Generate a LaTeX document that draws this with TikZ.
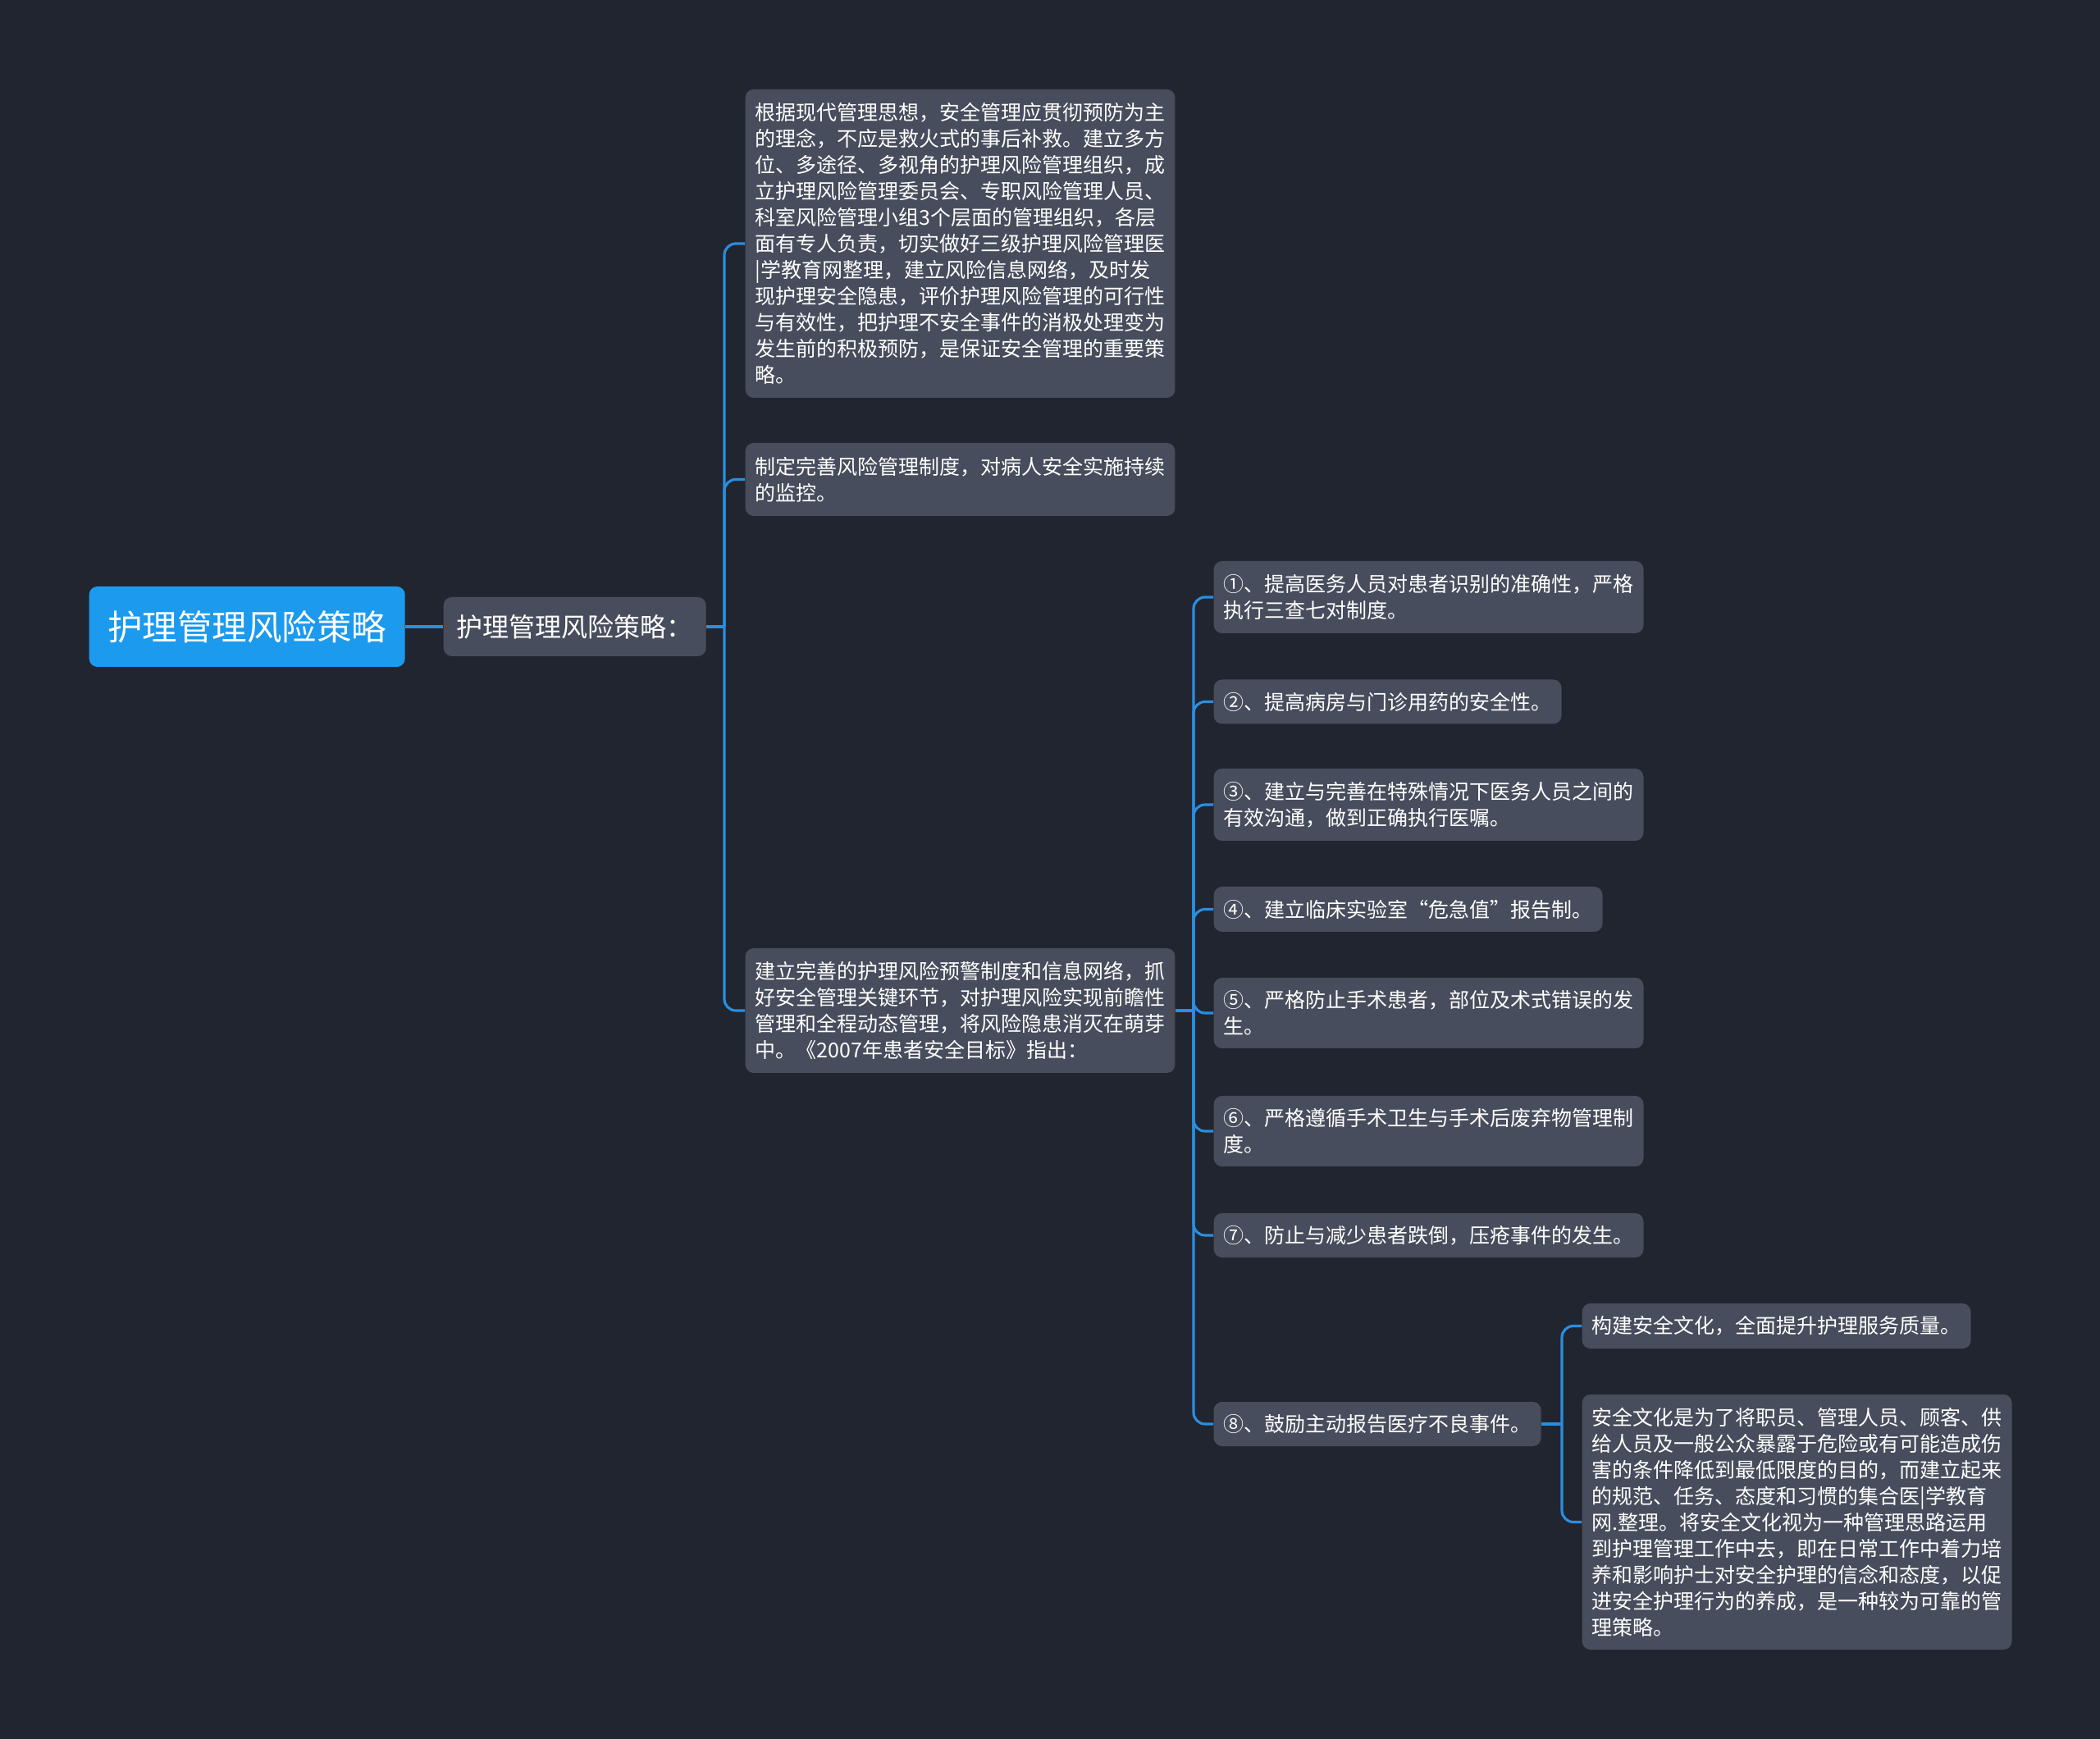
\documentclass[tikz,border=0pt]{standalone}
\usepackage{fontspec}
\setmainfont{Noto Sans CJK SC}
\usetikzlibrary{positioning}
\definecolor{mapbg}{HTML}{212530}
\definecolor{mapbox}{HTML}{474D5C}
\definecolor{mapblue}{HTML}{1B9AEE}
\definecolor{mapline}{HTML}{2A8EE0}

\begin{document}
\begin{tikzpicture}[
  topic/.style={rectangle, rounded corners=0.1cm, fill=mapbox, text=white, inner xsep=0.12cm, inner ysep=0.05cm, align=left, anchor=west, font=\fontsize{7.11pt}{9.1pt}\selectfont},
  rootbox/.style={rectangle, rounded corners=0.1cm, fill=mapblue, text=white, minimum width=3.85cm, minimum height=0.98cm, anchor=west, font=\fontsize{12.1pt}{14pt}\selectfont},
  subbox/.style={rectangle, rounded corners=0.1cm, fill=mapbox, text=white, minimum width=3.2cm, minimum height=0.72cm, anchor=west, font=\fontsize{9.1pt}{11pt}\selectfont},
  link/.style={draw=mapline, line width=0.9pt, rounded corners=0.14cm}
]
\fill[mapbg] (0,0) rectangle (25.6,-21.2);
\useasboundingbox (0,0) rectangle (25.6,-21.2);

% root and first branch
\node[rootbox] (root) at (1.08,-7.64) {护理管理风险策略};
\node[subbox] (strat) at (5.40,-7.64) {护理管理风险策略：};

\node[topic, minimum height=3.76cm] (prevent) at (9.08,-2.97) {根据现代管理思想，安全管理应贯彻预防为主\\
的理念，不应是救火式的事后补救。建立多方\\
位、多途径、多视角的护理风险管理组织，成\\
立护理风险管理委员会、专职风险管理人员、\\
科室风险管理小组3个层面的管理组织，各层\\
面有专人负责，切实做好三级护理风险管理医\\
|学教育网整理，建立风险信息网络，及时发\\
现护理安全隐患，评价护理风险管理的可行性\\
与有效性，把护理不安全事件的消极处理变为\\
发生前的积极预防，是保证安全管理的重要策\\
略。};
\node[topic, minimum height=0.89cm] (rules) at (9.08,-5.845) {制定完善风险管理制度，对病人安全实施持续\\
的监控。};
\node[topic, minimum height=1.52cm] (warn) at (9.08,-12.32) {建立完善的护理风险预警制度和信息网络，抓\\
好安全管理关键环节，对护理风险实现前瞻性\\
管理和全程动态管理，将风险隐患消灭在萌芽\\
中。《2007年患者安全目标》指出：};

% the eight goals
\node[topic, minimum height=0.88cm] (g1) at (14.79,-7.28) {①、提高医务人员对患者识别的准确性，严格\\
执行三查七对制度。};
\node[topic, minimum height=0.54cm] (g2) at (14.79,-8.555) {②、提高病房与门诊用药的安全性。};
\node[topic, minimum height=0.88cm] (g3) at (14.79,-9.81) {③、建立与完善在特殊情况下医务人员之间的\\
有效沟通，做到正确执行医嘱。};
\node[topic, minimum height=0.55cm] (g4) at (14.79,-11.085) {④、建立临床实验室“危急值”报告制。};
\node[topic, minimum height=0.86cm] (g5) at (14.79,-12.35) {⑤、严格防止手术患者，部位及术式错误的发\\
生。};
\node[topic, minimum height=0.86cm] (g6) at (14.79,-13.79) {⑥、严格遵循手术卫生与手术后废弃物管理制\\
度。};
\node[topic, minimum height=0.54cm] (g7) at (14.79,-15.06) {⑦、防止与减少患者跌倒，压疮事件的发生。};
\node[topic, minimum height=0.54cm] (g8) at (14.79,-17.36) {⑧、鼓励主动报告医疗不良事件。};

% safety culture
\node[topic, minimum height=0.55cm] (culture) at (19.28,-16.165) {构建安全文化，全面提升护理服务质量。};
\node[topic, minimum height=3.11cm] (define) at (19.28,-18.555) {安全文化是为了将职员、管理人员、顾客、供\\
给人员及一般公众暴露于危险或有可能造成伤\\
害的条件降低到最低限度的目的，而建立起来\\
的规范、任务、态度和习惯的集合医|学教育\\
网.整理。将安全文化视为一种管理思路运用\\
到护理管理工作中去，即在日常工作中着力培\\
养和影响护士对安全护理的信念和态度，以促\\
进安全护理行为的养成，是一种较为可靠的管\\
理策略。};

% connectors
\coordinate (j1) at (8.83,-7.64);
\coordinate (j2) at (14.55,-12.32);
\coordinate (j3) at (19.04,-17.36);

\draw[link] (root.east) -- (strat.west);
\draw[link] (strat.east) -- (j1);
\foreach \n in {prevent, rules, warn}
  \draw[link] (j1) |- (\n.west);
\draw[link] (warn.east) -- (j2);
\foreach \n in {g1, g2, g3, g4, g5, g6, g7, g8}
  \draw[link] (j2) |- (\n.west);
\draw[link] (g8.east) -- (j3);
\foreach \n in {culture, define}
  \draw[link] (j3) |- (\n.west);
\end{tikzpicture}
\end{document}
